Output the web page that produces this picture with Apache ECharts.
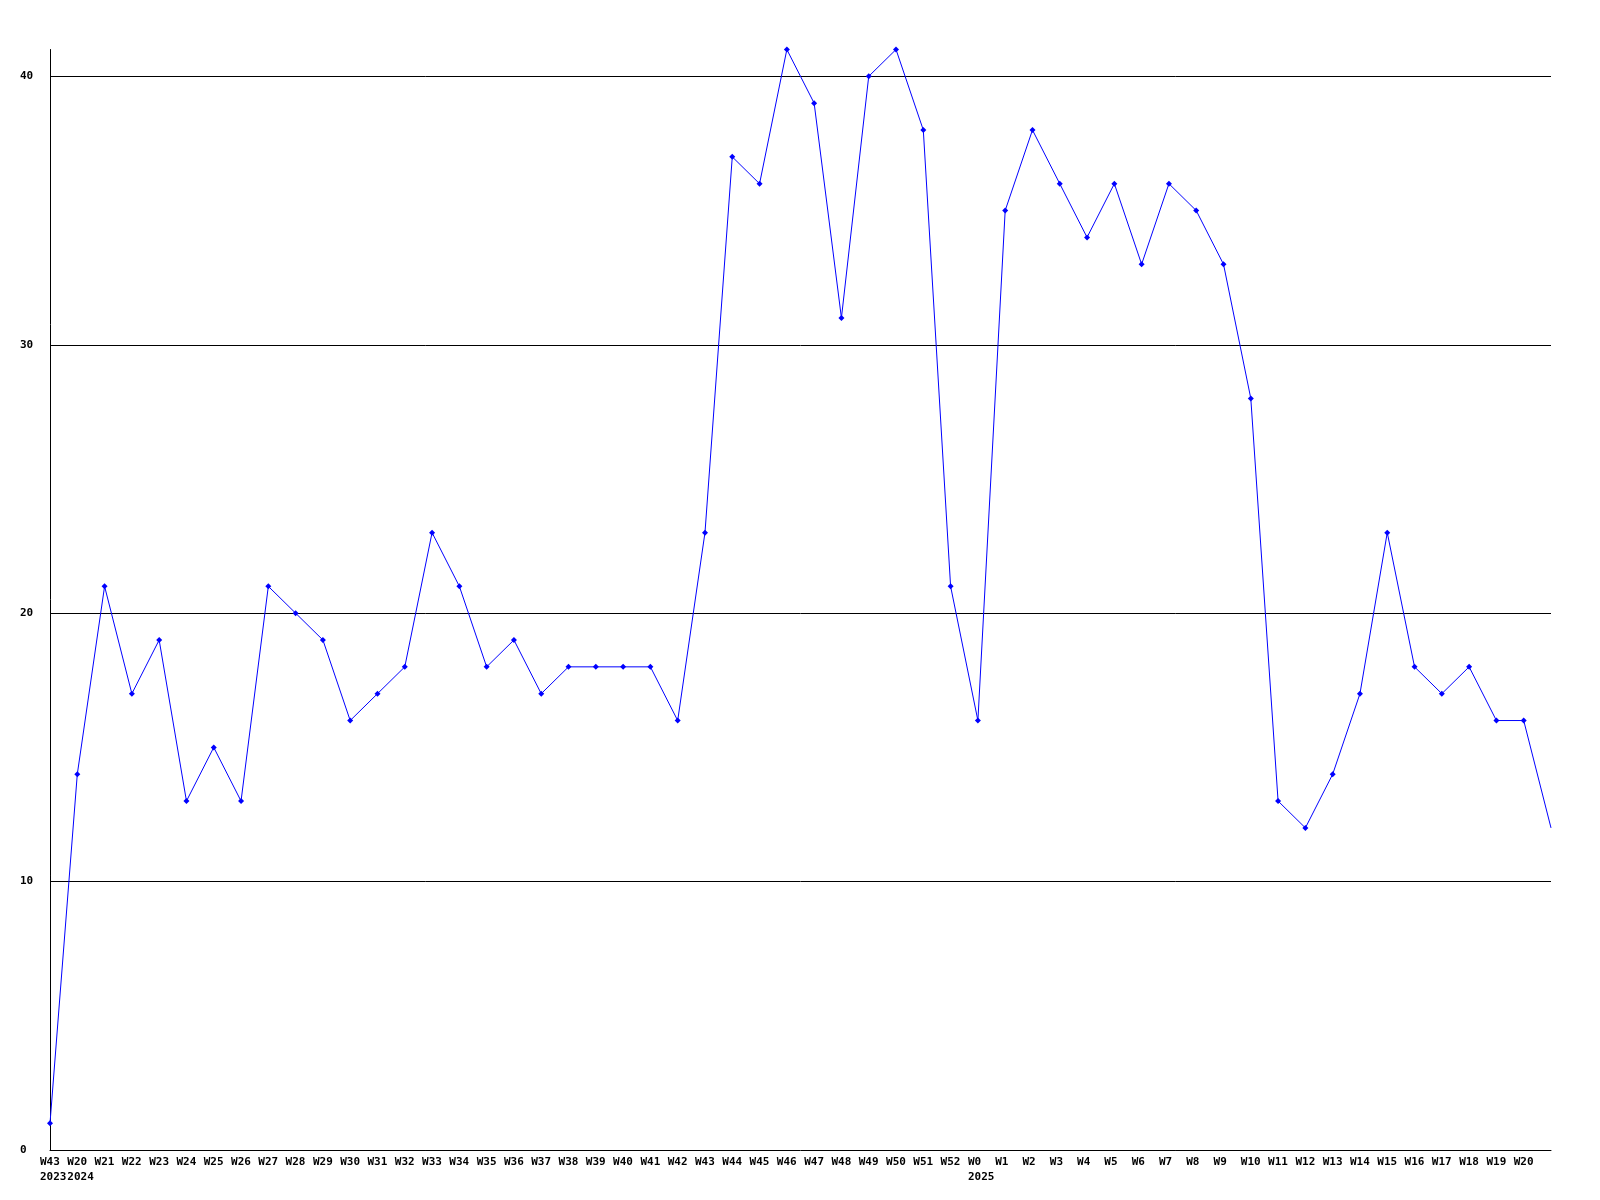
<!DOCTYPE html>
<html>
<head>
<meta charset="utf-8">
<script src="https://cdn.jsdelivr.net/npm/echarts@6/dist/echarts.min.js"></script>
<style>
html,body{margin:0;padding:0;background:#fff;}
#chart{width:1600px;height:1200px;}
</style>
</head>
<body>
<div id="chart"></div>
<script>
const categories = [
  'W43\n2023','W20\n2024','W21','W22','W23','W24','W25','W26','W27','W28','W29','W30','W31','W32',
  'W33','W34','W35','W36','W37','W38','W39','W40','W41','W42','W43','W44','W45','W46','W47','W48',
  'W49','W50','W51','W52','W0\n2025','W1','W2','W3','W4','W5','W6','W7','W8','W9','W10','W11',
  'W12','W13','W14','W15','W16','W17','W18','W19','W20',''
];
const values = [
  1,14,21,17,19,13,15,13,21,20,19,16,17,18,23,21,18,19,17,18,18,18,18,16,23,37,36,41,39,31,
  40,41,38,21,16,35,38,36,34,36,33,36,35,33,28,13,12,14,17,23,18,17,18,16,16,12
];
const gridValues = [10, 20, 30, 40];
const yMax = 41;

const font = '"DejaVu Sans Mono", "Liberation Mono", monospace';
const chart = echarts.init(document.getElementById('chart'), null, {renderer: 'canvas'});

const seriesData = values.map((v, i) => i === values.length - 1 ? {value: v, symbol: 'none'} : v);

chart.setOption({
  animation: false,
  backgroundColor: '#ffffff',
  grid: [
    {left: 50, right: 49, top: 49.5, bottom: 50},
    {left: 40, right: 59, top: 49.5, bottom: 50}
  ],
  xAxis: [
    {
      type: 'category', gridIndex: 0, data: categories, boundaryGap: false,
      axisLine: {show: true, lineStyle: {color: '#000', width: 1}},
      axisTick: {show: false},
      axisLabel: {show: false},
      splitLine: {show: false}
    },
    {
      type: 'category', gridIndex: 1, data: categories, boundaryGap: false,
      axisLine: {show: false}, axisTick: {show: false}, splitLine: {show: false},
      axisLabel: {
        show: true, interval: 0, align: 'left', margin: 5,
        color: '#000', fontFamily: font, fontSize: 11, fontWeight: 'bold', lineHeight: 15
      }
    }
  ],
  yAxis: [
    {
      type: 'value', gridIndex: 0, min: 0, max: yMax, interval: 10,
      axisLine: {show: true, lineStyle: {color: '#000', width: 1}},
      axisTick: {show: false},
      splitLine: {show: false},
      axisLabel: {
        show: true, showMaxLabel: false, align: 'left', margin: 30,
        color: '#000', fontFamily: font, fontSize: 11, fontWeight: 'bold'
      }
    },
    {
      type: 'value', gridIndex: 1, min: 0, max: yMax, show: false
    }
  ],
  series: [
    {
      type: 'line',
      xAxisIndex: 0, yAxisIndex: 0,
      data: seriesData,
      symbol: 'diamond',
      symbolSize: 6,
      showAllSymbol: true,
      lineStyle: {color: '#0000ff', width: 1},
      itemStyle: {color: '#0000ff'},
      z: 3,
      markLine: {
        silent: true,
        symbol: ['none', 'none'],
        label: {show: false},
        lineStyle: {color: '#000', width: 1, type: 'solid'},
        data: gridValues.map(v => ({yAxis: v})),
        z: 1
      }
    }
  ]
});
</script>
</body>
</html>
